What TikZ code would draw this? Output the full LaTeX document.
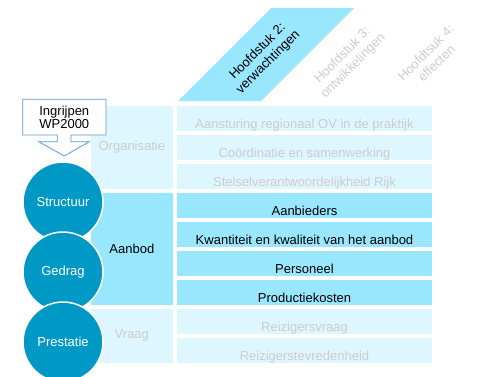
\documentclass[tikz,border=0pt]{standalone}
\usepackage{fontspec}
\setmainfont{Liberation Sans}
\usetikzlibrary{positioning}
\definecolor{circleblue}{RGB}{0,153,198}
\definecolor{brightblue}{RGB}{153,230,255}
\definecolor{paleblue}{RGB}{221,246,255}
\definecolor{fadedtext}{RGB}{205,205,205}
\definecolor{calloutline}{RGB}{91,155,213}
\tikzset{row/.style = {rectangle, minimum width=255pt, minimum height=24.7pt, inner sep=0pt, outer sep=0pt, text height=19.6pt, text depth=0pt, font=\fontsize{13}{14}\selectfont}}
\tikzset{active/.style = {row, fill=brightblue, text=black}}
\tikzset{faded/.style = {row, fill=paleblue, text=fadedtext}}
\tikzset{category/.style = {rectangle, minimum width=81.7pt, inner sep=0pt, outer sep=0pt, font=\fontsize{13}{14}\selectfont}}
\tikzset{phase/.style = {circle, draw=white, line width=1.5pt, fill=circleblue, text=white, minimum size=80pt, inner sep=0pt, font=\fontsize{13}{14}\selectfont}}
\tikzset{chapter/.style = {rotate=45, align=center, font=\fontsize{13}{15}\selectfont}}

\begin{document}
\begin{tikzpicture}[x=1pt, y=-1pt]
  \useasboundingbox (0,0) rectangle (477,376);

  % rows
  \node [faded, anchor=north west] (aansturing) at (177,106) {Aansturing regionaal OV in de praktijk};
  \node [faded, below=4.3pt of aansturing] (coordinatie) {Coördinatie en samenwerking};
  \node [faded, below=4.3pt of coordinatie] (stelsel) {Stelselverantwoordelijkheid Rijk};
  \node [active, below=4.3pt of stelsel] (aanbieders) {Aanbieders};
  \node [active, below=4.3pt of aanbieders] (kwantiteit) {Kwantiteit en kwaliteit van het aanbod};
  \node [active, below=4.3pt of kwantiteit] (personeel) {Personeel};
  \node [active, below=4.3pt of personeel] (productie) {Productiekosten};
  \node [faded, below=4.3pt of productie] (vraag) {Reizigersvraag};
  \node [faded, below=4.3pt of vraag] (tevredenheid) {Reizigerstevredenheid};

  % categories
  \node [category, fill=paleblue, text=fadedtext, minimum height=82.7pt, left=4.3pt of aansturing.north west, anchor=north east] (organisatie) {Organisatie};
  \node [category, fill=brightblue, text=black, minimum height=111.7pt, left=4.3pt of aanbieders.north west, anchor=north east] (aanbod) {Aanbod};
  \node [category, fill=paleblue, text=fadedtext, minimum height=53.7pt, left=4.3pt of vraag.north west, anchor=north east] (vraagcat) {Vraag};

  % headers
  \path [fill=brightblue] (178,101) -- (261,101) -- (354,8) -- (271,8) -- cycle;
  \node [chapter] (hfdst2) at (263,57) {Hoofdstuk 2:\\verwachtingen};
  \node [chapter, text=fadedtext] (hfdst3) at (348,61) {Hoofdstuk 3:\\ontwikkelingen};
  \node [chapter, text=fadedtext] (hfdst4) at (431,58) {Hoofdtsuk 4:\\effecten};

  % callout
  \filldraw [draw=calloutline, fill=white, line width=0.8pt] (22.7,99.3) -- (106,99.3) -- (106,135) -- (71,135) -- (71,141.7) -- (89.3,141.7) -- (64.3,156) -- (38.7,141.7) -- (57.3,141.7) -- (57.3,135) -- (22.7,135) -- cycle;
  \node [align=center, font=\fontsize{13}{13.5}\selectfont] (ingrijpen) at (64.3,117.5) {Ingrijpen\\WP2000};

  % circles
  \node [phase] (structuur) at (63,202) {Structuur};
  \node [phase, below=-11.5pt of structuur] (gedrag) {Gedrag};
  \node [phase, below=-11.5pt of gedrag] (prestatie) {Prestatie};
\end{tikzpicture}
\end{document}
